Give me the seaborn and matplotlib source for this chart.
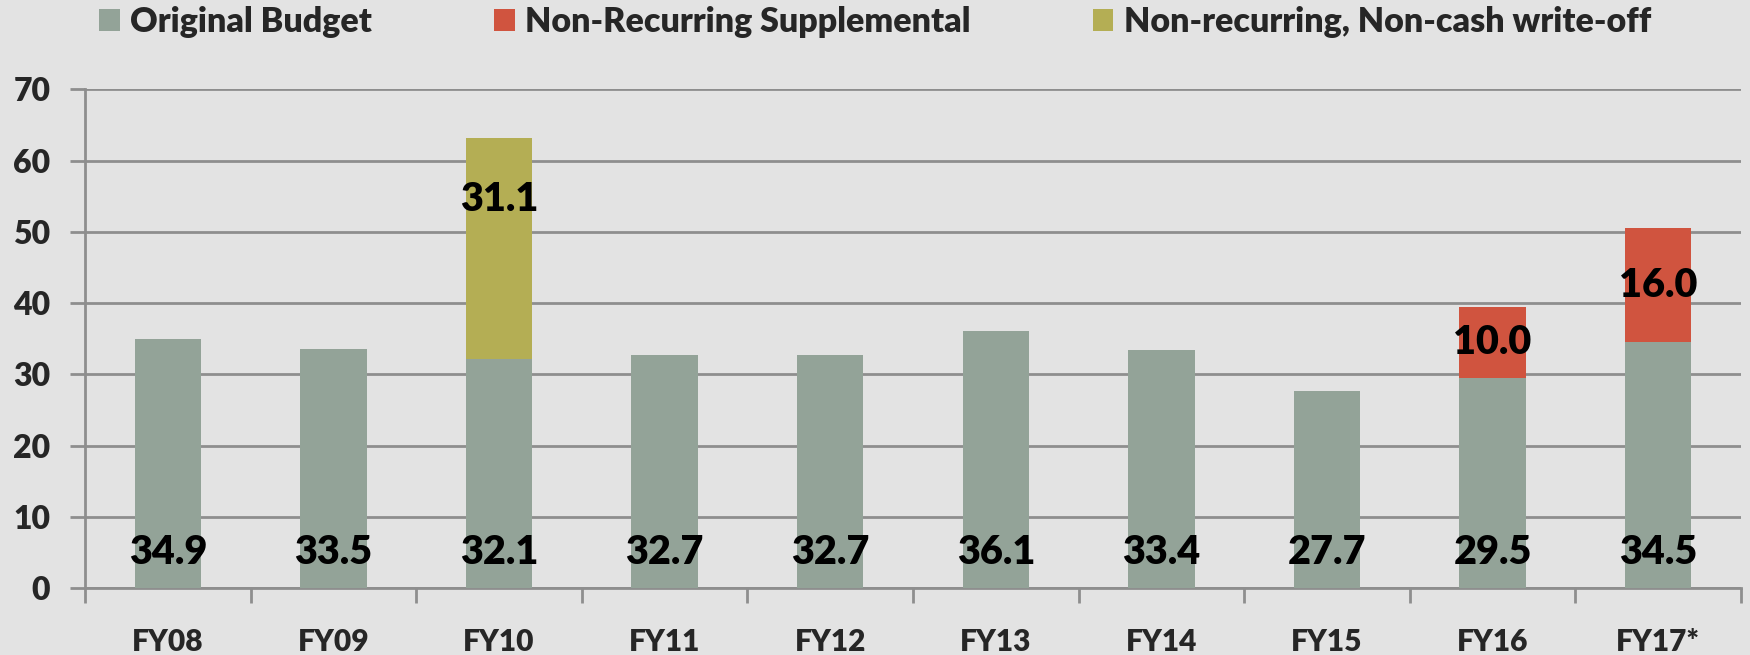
import numpy as np
import pandas as pd
import matplotlib
matplotlib.use("Agg")
import matplotlib.pyplot as plt
from matplotlib.patches import Patch
import seaborn as sns

years = ["FY08", "FY09", "FY10", "FY11", "FY12", "FY13", "FY14", "FY15", "FY16", "FY17*"]
original = [34.9, 33.5, 32.1, 32.7, 32.7, 36.1, 33.4, 27.7, 29.5, 34.5]
supplemental = [0, 0, 0, 0, 0, 0, 0, 0, 10.0, 16.0]
writeoff = [0, 0, 31.1, 0, 0, 0, 0, 0, 0, 0]

series_names = ["Original Budget", "Non-Recurring Supplemental",
                "Non-recurring, Non-cash write-off"]
colors = ["#93a398", "#d0543f", "#b4ae54"]
bg = "#e3e3e3"
grid_c = "#8e8e8e"
W = "heavy"

sns.set_theme(style="white")
plt.rcParams["font.family"] = ["Lato", "DejaVu Sans"]
plt.rcParams["font.weight"] = W

df = pd.DataFrame({"year": years, "original": original,
                   "supplemental": supplemental, "writeoff": writeoff})

fig = plt.figure(figsize=(17.5, 6.55), dpi=100, facecolor=bg)
ax = fig.add_axes([85 / 1750, 1 - 588 / 655, (1741 - 85) / 1750, (588 - 89.3) / 655])
ax.set_facecolor(bg)

# stacked bars: base, then the two extra layers on top
sns.barplot(data=df, x="year", y="original", color=colors[0], width=0.4,
            saturation=1, linewidth=0, ax=ax, zorder=3)
sns.barplot(data=df, x="year", y="supplemental", bottom=df["original"],
            color=colors[1], width=0.4, saturation=1, linewidth=0, ax=ax, zorder=3)
sns.barplot(data=df, x="year", y="writeoff",
            bottom=df["original"] + df["supplemental"],
            color=colors[2], width=0.4, saturation=1, linewidth=0, ax=ax, zorder=3)

ax.set_ylim(0, 70)
ax.set_xlim(-0.5, len(years) - 0.5)
ax.set_yticks(np.arange(0, 71, 10))
ax.yaxis.grid(True, color=grid_c, linewidth=2, zorder=0)
ax.set_axisbelow(True)
for s in ["top", "right"]:
    ax.spines[s].set_visible(False)
for s in ["left", "bottom"]:
    ax.spines[s].set_color(grid_c)
    ax.spines[s].set_linewidth(2)
ax.set_xlabel("")
ax.set_ylabel("")

# x: tick marks between categories, labels at centres
ax.set_xticks(np.arange(-0.5, len(years)), minor=False)
ax.set_xticklabels([])
ax.set_xticks(np.arange(len(years)), minor=True)
ax.set_xticklabels(years, minor=True, fontsize=21.5, fontweight=W)
ax.tick_params(axis="x", which="major", direction="out", length=11, width=2,
               color=grid_c, bottom=True)
ax.tick_params(axis="x", which="minor", length=0, pad=29)
ax.tick_params(axis="y", direction="out", length=11, width=2, color=grid_c,
               left=True, labelsize=23, pad=14)
for lbl in ax.get_yticklabels():
    lbl.set_fontweight(W)

# value labels
for i in range(len(years)):
    ax.text(i, 5, f"{original[i]:.1f}", ha="center", va="center",
            fontsize=28.5, fontweight=W, color="black", zorder=5)
    extra = supplemental[i] + writeoff[i]
    if extra > 0:
        y = original[i] + extra / 2
        if writeoff[i] > 0:
            y = original[i] + extra * 0.72
        ax.text(i, y, f"{extra:.1f}", ha="center", va="center",
                fontsize=28.5, fontweight=W, color="black", zorder=5)

handles = [Patch(facecolor=c, edgecolor="none") for c in colors]
fig.legend(handles, series_names, loc="center", bbox_to_anchor=(0.5, 1 - 22 / 655),
           ncol=3, frameon=False, handlelength=0.6, handleheight=0.6,
           handletextpad=0.3, columnspacing=3.6, prop={"weight": W, "size": 24.5})

fig.savefig("out.png", dpi=100, facecolor=bg)
